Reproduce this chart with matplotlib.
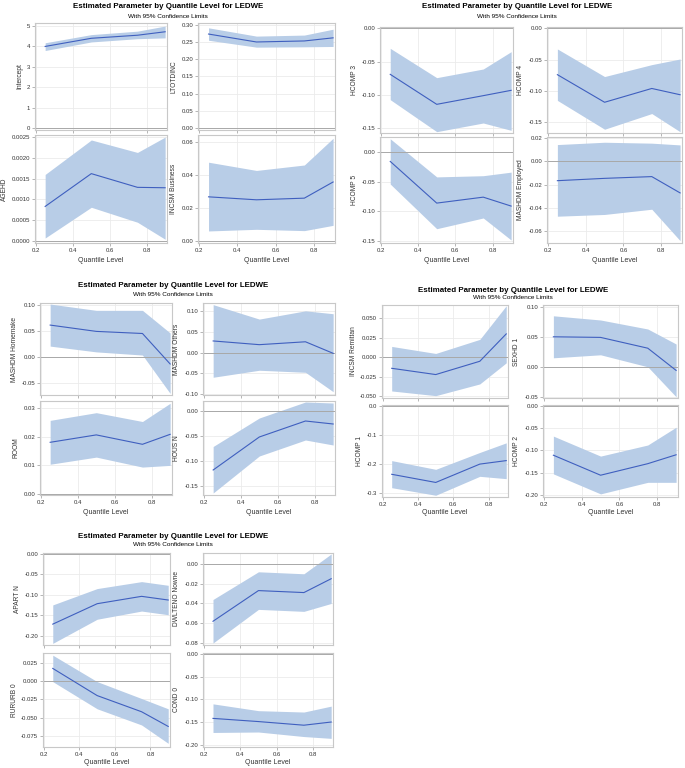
import matplotlib
matplotlib.use("Agg")
import matplotlib.pyplot as plt
from matplotlib.ticker import FormatStrFormatter

plt.rcParams['font.family'] = ['Liberation Sans', 'DejaVu Sans']

quantiles = [0.25, 0.5, 0.75, 0.9]
x_ticks = [0.2, 0.4, 0.6, 0.8]

title_text = "Estimated Parameter by Quantile Level for LEDWE"
subtitle_text = "With 95% Confidence Limits"
xlabel_text = "Quantile Level"

# Panel 1
intercept_est = [4.00, 4.40, 4.55, 4.72]
intercept_lo = [3.80, 4.22, 4.38, 4.42]
intercept_hi = [4.18, 4.58, 4.75, 5.00]
ltotdinc_est = [0.273, 0.250, 0.253, 0.262]
ltotdinc_lo = [0.255, 0.235, 0.236, 0.237]
ltotdinc_hi = [0.291, 0.267, 0.270, 0.287]
agehd_est = [0.00083, 0.00162, 0.00129, 0.00128]
agehd_lo = [0.00007, 0.00081, 0.00045, 0.00004]
agehd_hi = [0.00160, 0.00243, 0.00213, 0.00250]
incsm_bus_est = [0.0265, 0.0247, 0.0257, 0.0355]
incsm_bus_lo = [0.0058, 0.0068, 0.0060, 0.0092]
incsm_bus_hi = [0.0475, 0.0425, 0.0458, 0.0620]

# Panel 2
hcomp3_est = [-0.069, -0.114, -0.101, -0.093]
hcomp3_lo = [-0.107, -0.155, -0.142, -0.153]
hcomp3_hi = [-0.030, -0.074, -0.061, -0.035]
hcomp4_est = [-0.074, -0.118, -0.096, -0.106]
hcomp4_lo = [-0.115, -0.161, -0.136, -0.165]
hcomp4_hi = [-0.033, -0.077, -0.058, -0.049]
hcomp5_est = [-0.016, -0.086, -0.076, -0.091]
hcomp5_lo = [-0.054, -0.129, -0.111, -0.148]
hcomp5_hi = [0.022, -0.042, -0.040, -0.034]
mash_emp_est = [-0.0165, -0.0145, -0.0130, -0.0270]
mash_emp_lo = [-0.0470, -0.0455, -0.0410, -0.0680]
mash_emp_hi = [0.0145, 0.0165, 0.0157, 0.0142]

# Panel 3
mash_home_est = [0.061, 0.049, 0.045, -0.013]
mash_home_lo = [0.021, 0.010, 0.004, -0.069]
mash_home_hi = [0.101, 0.089, 0.089, 0.046]
mash_oth_est = [0.028, 0.019, 0.026, -0.002]
mash_oth_lo = [-0.060, -0.043, -0.048, -0.095]
mash_oth_hi = [0.116, 0.081, 0.101, 0.094]
room_est = [0.0180, 0.0206, 0.0173, 0.0208]
room_lo = [0.0103, 0.0128, 0.0093, 0.0099]
room_hi = [0.0257, 0.0284, 0.0253, 0.0317]
housn_est = [-0.118, -0.052, -0.020, -0.026]
housn_lo = [-0.164, -0.090, -0.058, -0.068]
housn_hi = [-0.071, -0.014, 0.018, 0.016]

# Panel 4
incsm_rem_est = [-0.014, -0.022, -0.005, 0.030]
incsm_rem_lo = [-0.043, -0.049, -0.034, -0.007]
incsm_rem_hi = [0.014, 0.005, 0.023, 0.066]
sexhd_est = [0.050, 0.049, 0.031, -0.006]
sexhd_lo = [0.015, 0.020, 0.000, -0.050]
sexhd_hi = [0.085, 0.078, 0.063, 0.038]
hcomp1_est = [-0.235, -0.263, -0.200, -0.188]
hcomp1_lo = [-0.281, -0.307, -0.242, -0.250]
hcomp1_hi = [-0.188, -0.218, -0.160, -0.127]
hcomp2_est = [-0.111, -0.156, -0.130, -0.110]
hcomp2_lo = [-0.153, -0.198, -0.172, -0.172]
hcomp2_hi = [-0.068, -0.113, -0.088, -0.048]

# Panel 5
apartn_est = [-0.172, -0.122, -0.104, -0.113]
apartn_lo = [-0.219, -0.160, -0.140, -0.149]
apartn_hi = [-0.125, -0.085, -0.068, -0.077]
dwlteno_est = [-0.058, -0.027, -0.029, -0.015]
dwlteno_lo = [-0.080, -0.046, -0.048, -0.040]
dwlteno_hi = [-0.036, -0.008, -0.010, 0.010]
rururb_est = [0.017, -0.020, -0.042, -0.062]
rururb_lo = [-0.001, -0.038, -0.060, -0.085]
rururb_hi = [0.035, -0.001, -0.024, -0.038]
cond_est = [-0.142, -0.149, -0.157, -0.150]
cond_lo = [-0.173, -0.172, -0.182, -0.186]
cond_hi = [-0.110, -0.125, -0.128, -0.115]

panels = [
    dict(cols=[(35, 167), (198, 335)], rows=[(23, 130), (135, 243)], tx=168, ty=7, sy=16, xly=260,
         plots=[("Intercept", intercept_est, intercept_lo, intercept_hi, (-0.1, 5.15), [0, 1, 2, 3, 4, 5], "%d"),
                ("LTOTDINC", ltotdinc_est, ltotdinc_lo, ltotdinc_hi, (-0.005, 0.305), [0, 0.05, 0.1, 0.15, 0.2, 0.25, 0.3], "%.2f"),
                ("AGEHD", agehd_est, agehd_lo, agehd_hi, (-0.00005, 0.00255), [0, 0.0005, 0.001, 0.0015, 0.002, 0.0025], "%.4f"),
                ("INCSM Business", incsm_bus_est, incsm_bus_lo, incsm_bus_hi, (-0.0015, 0.064), [0, 0.02, 0.04, 0.06], "%.2f")]),
    dict(cols=[(380, 513), (547, 682)], rows=[(27, 133), (137, 243)], tx=517, ty=7, sy=16, xly=260,
         plots=[("HCOMP 3", hcomp3_est, hcomp3_lo, hcomp3_hi, (-0.157, 0.002), [0, -0.05, -0.1, -0.15], "%.2f"),
                ("HCOMP 4", hcomp4_est, hcomp4_lo, hcomp4_hi, (-0.167, 0.002), [0, -0.05, -0.1, -0.15], "%.2f"),
                ("HCOMP 5", hcomp5_est, hcomp5_lo, hcomp5_hi, (-0.153, 0.025), [0, -0.05, -0.1, -0.15], "%.2f"),
                ("MASHDM Employed", mash_emp_est, mash_emp_lo, mash_emp_hi, (-0.07, 0.021), [0.02, 0, -0.02, -0.04, -0.06], "%.2f")]),
    dict(cols=[(40, 172), (203, 335)], rows=[(303, 395), (401, 495)], tx=173, ty=286, sy=294, xly=512,
         plots=[("MASHDM Homemake", mash_home_est, mash_home_lo, mash_home_hi, (-0.072, 0.103), [0.1, 0.05, 0, -0.05], "%.2f"),
                ("MASHDM Others", mash_oth_est, mash_oth_lo, mash_oth_hi, (-0.103, 0.12), [0.1, 0.05, 0, -0.05, -0.1], "%.2f"),
                ("ROOM", room_est, room_lo, room_hi, (-0.0005, 0.0325), [0, 0.01, 0.02, 0.03], "%.2f"),
                ("HOUS N", housn_est, housn_lo, housn_hi, (-0.168, 0.02), [0, -0.05, -0.1, -0.15], "%.2f")]),
    dict(cols=[(382, 508), (543, 678)], rows=[(305, 398), (405, 497)], tx=513, ty=290, sy=298, xly=512,
         plots=[("INCSM Remittan", incsm_rem_est, incsm_rem_lo, incsm_rem_hi, (-0.052, 0.067), [0.05, 0.025, 0, -0.025, -0.05], "%.3f"),
                ("SEXHD 1", sexhd_est, sexhd_lo, sexhd_hi, (-0.052, 0.103), [0.1, 0.05, 0, -0.05], "%.2f"),
                ("HCOMP 1", hcomp1_est, hcomp1_lo, hcomp1_hi, (-0.313, 0.003), [0, -0.1, -0.2, -0.3], "%.1f"),
                ("HCOMP 2", hcomp2_est, hcomp2_lo, hcomp2_hi, (-0.205, 0.002), [0, -0.05, -0.1, -0.15, -0.2], "%.2f")]),
    dict(cols=[(43, 170), (203, 333)], rows=[(553, 645), (653, 747)], tx=173, ty=536, sy=544, xly=763,
         plots=[("APART N", apartn_est, apartn_lo, apartn_hi, (-0.223, 0.002), [0, -0.05, -0.1, -0.15, -0.2], "%.2f"),
                ("DWLTENO Nowne", dwlteno_est, dwlteno_lo, dwlteno_hi, (-0.082, 0.011), [0, -0.02, -0.04, -0.06, -0.08], "%.2f"),
                ("RURURB 0", rururb_est, rururb_lo, rururb_hi, (-0.09, 0.038), [0.025, 0, -0.025, -0.05, -0.075], "%.3f"),
                ("COND 0", cond_est, cond_lo, cond_hi, (-0.205, 0.002), [0, -0.05, -0.1, -0.15, -0.2], "%.2f")]),
]

W, H = 685, 768
fig = plt.figure(figsize=(W / 100, H / 100), dpi=100)
fig.patch.set_facecolor('white')

fill_c = '#b8cde7'
line_c = '#3f5fbf'
frame_c = '#c8c8c8'
grid_c = '#ebebeb'
txt_c = '#333333'

for p in panels:
    fig.text(p['tx'] / W, 1 - p['ty'] / H, title_text, ha='center', va='center',
             fontsize=5.7, fontweight='bold', color='black')
    fig.text(p['tx'] / W, 1 - p['sy'] / H, subtitle_text, ha='center', va='center',
             fontsize=4.6, color='black')
    for i, (name, est, lo, hi, ylim, yt, fmt) in enumerate(p['plots']):
        r, c = divmod(i, 2)
        x0, x1 = p['cols'][c]
        y0, y1 = p['rows'][r]
        ax = fig.add_axes([x0 / W, 1 - y1 / H, (x1 - x0) / W, (y1 - y0) / H])
        ax.fill_between(quantiles, lo, hi, color=fill_c, lw=0, zorder=2)
        ax.plot(quantiles, est, color=line_c, lw=0.8, zorder=3)
        ax.axhline(0, color='#a8a8a8', lw=0.7, zorder=2.5)
        ax.set_xlim(0.195, 0.91)
        ax.set_ylim(*ylim)
        ax.set_xticks(x_ticks)
        ax.set_yticks(yt)
        ax.yaxis.set_major_formatter(FormatStrFormatter(fmt))
        ax.xaxis.set_major_formatter(FormatStrFormatter('%.1f'))
        ax.grid(True, color=grid_c, lw=0.6, zorder=0)
        ax.set_axisbelow(True)
        for s in ax.spines.values():
            s.set_color(frame_c)
            s.set_linewidth(0.8)
        ax.tick_params(axis='both', labelsize=4.3, colors=txt_c, length=2, width=0.5, pad=1.5)
        ax.tick_params(axis='both', color='#999999')
        ax.set_ylabel(name, fontsize=4.8, color=txt_c, labelpad=(2.5 if c == 0 else 3))
        if r == 0:
            ax.tick_params(axis='x', labelbottom=False)
    cx = sum(p['cols'][0]) / 2
    fig.text(cx / W, 1 - p['xly'] / H, xlabel_text, ha='center', va='center', fontsize=5, color=txt_c)
    cx2 = sum(p['cols'][1]) / 2
    fig.text(cx2 / W, 1 - p['xly'] / H, xlabel_text, ha='center', va='center', fontsize=5, color=txt_c)

fig.savefig('out.png', dpi=100, facecolor='white')
